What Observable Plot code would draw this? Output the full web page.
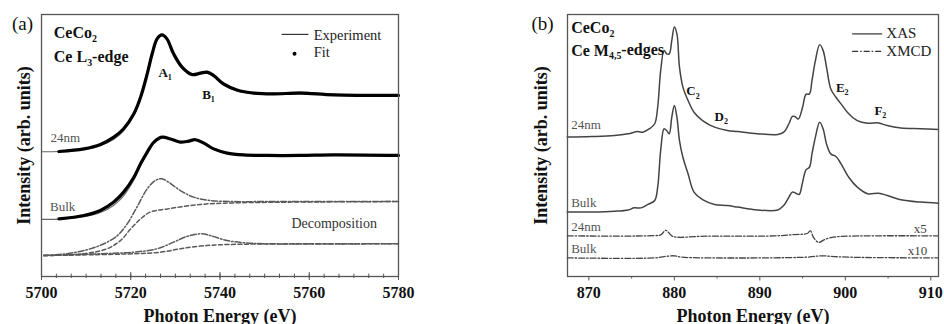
<!DOCTYPE html>
<html>
<head>
<meta charset="utf-8">
<script src="https://cdn.jsdelivr.net/npm/d3@7"></script>
<script src="https://cdn.jsdelivr.net/npm/@observablehq/plot@0.6"></script>
<style>
  html, body { margin: 0; padding: 0; background: #fff; }
  #wrap { display: flex; width: 944px; height: 324px; overflow: hidden; }
</style>
</head>
<body>
<div id="wrap"></div>
<script>
// ---------- Panel (a): Ce L3-edge ----------
const majorA = [5700, 5720, 5740, 5760, 5780];
const exp24 = [[5700,47.6],[5703.9,47.7],[5709.5,48.4],[5713.2,49.9],[5716.2,52.4],[5718.4,55.6],[5720.7,61.5],[5722.2,68.0],[5723.7,77.2],[5724.8,85.0],[5725.9,90.7],[5727.0,92.2],[5728.1,90.6],[5729.6,84.8],[5731.5,79.6],[5733.7,76.9],[5735.6,77.3],[5737.1,77.6],[5738.6,76.2],[5740.8,73.0],[5743.8,70.8],[5747.6,69.8],[5752,69.9],[5758,70.4],[5765.5,69.5],[5780,69.1]];
const fit24 = [[5703.9,47.7],[5709.5,48.7],[5713.2,50.4],[5716.2,53.2],[5718.4,56.4],[5720.7,62.1],[5722.2,68.4],[5723.7,77.4],[5724.8,85.0],[5725.9,90.7],[5727.0,92.2],[5728.1,90.7],[5729.6,85.0],[5731.5,79.9],[5733.7,77.1],[5735.6,77.6],[5737.1,78.0],[5738.6,76.7],[5740.8,73.5],[5743.8,71.2],[5747.6,70.0],[5752,69.7],[5758,70.0],[5765.5,69.3],[5780,69.1]];
const expBulk = [[5700,21.8],[5703.9,21.9],[5709.5,22.8],[5713.2,24.4],[5716.2,27.2],[5718.4,30.8],[5720.7,36.8],[5722.2,42.4],[5723.7,47.2],[5725.2,51.2],[5727,53.0],[5728.9,52.4],[5731.1,51.2],[5733,51.6],[5734.5,52.0],[5736.4,50.7],[5738.6,48.5],[5741.6,47.0],[5745.3,46.4],[5750.6,46.3],[5758,46.3],[5765.5,46.4],[5780,46.2]];
const fitBulk = [[5703.9,22.0],[5709.5,23.3],[5713.2,25.2],[5716.2,28.4],[5718.4,32.2],[5720.7,37.9],[5722.2,43.0],[5723.7,47.5],[5725.2,51.3],[5727,53.2],[5728.9,52.5],[5731.1,51.3],[5733,51.7],[5734.5,52.2],[5736.4,50.9],[5738.6,48.7],[5741.6,47.1],[5745.3,46.4],[5750.6,46.2],[5758,46.2],[5765.5,46.4],[5780,46.2]];
const peak1 = [[5700.5,8.0],[5705.7,8.7],[5710.2,10.2],[5714,12.5],[5717,15.6],[5719.2,20.1],[5721.4,26.5],[5723.7,33.5],[5725.5,36.6],[5726.9,37.3],[5728.5,36.0],[5731.1,32.8],[5734.1,30.3],[5737.9,29.0],[5743,28.6],[5750.5,28.6],[5780,28.6]];
const step1 = [[5700.5,8.0],[5709.5,8.7],[5714.7,10.6],[5717.7,13.7],[5720,18.2],[5722.2,22.0],[5724.4,24.6],[5728.2,25.8],[5735.6,27.5],[5743,28.1],[5780,28.6]];
const peak2 = [[5700.5,8.0],[5713.2,8.7],[5720.7,9.3],[5725.9,10.6],[5729.6,13.1],[5732.6,15.3],[5735.6,16.3],[5737.9,15.6],[5741.6,13.7],[5746.1,12.8],[5750.6,12.5],[5780,12.5]];
const step2 = [[5700.5,8.0],[5720.7,8.7],[5726.7,9.3],[5731.1,10.6],[5735.6,11.6],[5741.6,12.2],[5780,12.5]];
const notesA = [
  {x: 5726.2, y: 76.0, t: "A_{1}"},
  {x: 5736.0, y: 67.9, t: "B_{1}"}
];
const sampleLabelsA = [
  {x: 5702.0, y: 51.3, t: "24nm"},
  {x: 5701.9, y: 24.9, t: "Bulk"}
];
const decompLabel = [{x: 5756.0, y: 18.4, t: "Decomposition"}];
const legendALine = [{x1: 5753.8, x2: 5759.8, y: 92.4}];
const legendADot = [{x: 5756.7, y: 85.0}];
const legendATexts = [{x: 5761.0, y: 90.3, t: "Experiment"}, {x: 5761.0, y: 83.7, t: "Fit"}];

// ---------- Panel (b): Ce M4,5-edges ----------
const majorB = [870, 880, 890, 900, 910];
const minorB = [875, 885, 895, 905];
const xas24 = [[867.47,53.2],[870.3,53.4],[873.0,53.8],[874.6,54.5],[875.7,55.3],[876.3,55.1],[877.1,56.4],[877.7,58.3],[878.05,64.6],[878.4,78.6],[878.8,86.3],[879.1,85.0],[879.4,85.0],[879.7,90.1],[880.0,95.2],[880.3,92.6],[880.6,79.9],[881.0,72.3],[881.6,67.2],[882.3,62.7],[883.3,59.5],[884.7,57.0],[886.2,55.7],[887.4,55.3],[889.7,54.5],[892.1,54.2],[892.8,55.1],[893.4,58.3],[893.8,61.1],[894.1,61.1],[894.5,60.1],[895.0,64.6],[895.4,69.5],[895.8,69.7],[896.1,74.8],[896.5,82.4],[897.0,88.5],[897.4,86.3],[897.8,79.9],[898.3,71.6],[898.9,68.4],[899.5,65.9],[900.4,62.1],[901.4,59.5],[902.6,58.5],[903.9,58.6],[904.9,57.6],[906.5,56.7],[908.8,56.4],[910.9,56.1]];
const xasBulk = [[867.47,24.6],[870.3,24.6],[873.0,24.9],[874.6,25.4],[875.3,26.2],[876.1,26.2],[876.9,27.5],[877.7,29.0],[878.05,34.1],[878.4,48.1],[878.8,56.4],[879.1,55.7],[879.4,54.5],[879.7,60.8],[880.0,65.3],[880.3,60.8],[880.6,51.9],[881.0,45.5],[881.6,39.2],[882.3,32.2],[883.3,29.3],[884.7,27.5],[886.2,27.1],[887.4,26.5],[889.7,25.4],[892.1,25.4],[892.8,27.1],[893.4,30.3],[893.8,32.2],[894.2,31.8],[894.6,31.3],[895.0,36.0],[895.4,40.7],[895.8,41.7],[896.1,46.8],[896.5,53.2],[897.0,58.9],[897.4,56.4],[897.8,50.6],[898.3,46.8],[898.9,45.8],[899.5,43.0],[900.4,37.9],[901.4,34.1],[902.6,31.6],[903.9,31.8],[904.9,30.9],[906.5,29.3],[908.8,28.4],[910.9,28.0]];
const xmcd24 = [[867.47,15.5],[877.7,15.6],[878.4,15.9],[879.0,17.6],[879.4,16.5],[879.8,15.3],[883.9,15.4],[891.7,15.5],[894.0,16.0],[895.6,16.5],[895.9,17.6],[896.3,14.8],[896.9,13.0],[897.5,14.0],[898.3,14.8],[899.5,15.3],[910.9,15.5]];
const xmcdBulk = [[867.47,7.1],[877.7,7.1],[878.8,7.6],[880.0,7.9],[880.8,7.4],[883.9,7.1],[895.6,7.4],[897.2,7.9],[898.7,7.6],[901.4,7.3],[910.9,7.1]];
const notesB = [
  {x: 881.4, y: 69.1, t: "C_{2}"},
  {x: 884.7, y: 59.5, t: "D_{2}"},
  {x: 898.9, y: 70.6, t: "E_{2}"},
  {x: 903.4, y: 61.5, t: "F_{2}"}
];
const sampleLabelsB = [
  {x: 867.93, y: 56.4, t: "24nm"},
  {x: 867.93, y: 26.5, t: "Bulk"},
  {x: 867.93, y: 17.2, t: "24nm"},
  {x: 867.93, y: 9.0, t: "Bulk"}
];
const scaleLabelsB = [{x: 908.0, y: 16.5, t: "x5"}, {x: 907.3, y: 8.3, t: "x10"}];
const legendBSolid = [{x1: 900.8, x2: 904.3, y: 92.6}];
const legendBDash = [{x1: 900.8, x2: 904.3, y: 85.9}];
const legendBTexts = [{x: 904.8, y: 91.0, t: "XAS"}, {x: 904.8, y: 84.2, t: "XMCD"}];

const SERIF = "'Liberation Serif', 'Times New Roman', 'DejaVu Serif', serif";
const GRAY = "#555";
const DASHDOT = "6,2,1.5,2";
const X = d => d[0], Y = d => d[1];

function subscripts(svg) {
  const ns = "http://www.w3.org/2000/svg";
  svg.querySelectorAll("text").forEach(t => {
    const s = t.textContent;
    if (!s.includes("_{")) return;
    while (t.firstChild) t.removeChild(t.firstChild);
    let prevSub = false;
    s.split(/(_\{[^}]*\})/).forEach(p => {
      if (!p) return;
      const ts = document.createElementNS(ns, "tspan");
      if (p.startsWith("_{")) {
        ts.textContent = p.slice(2, -1);
        ts.setAttribute("font-size", "62%");
        ts.setAttribute("dy", "0.38em");
        prevSub = true;
      } else {
        ts.textContent = p;
        if (prevSub) ts.setAttribute("dy", "-0.24em");
        prevSub = false;
      }
      t.appendChild(ts);
    });
  });
}

function cornerText(label, dx, dy, size, bold) {
  return Plot.text([label], {frameAnchor: "top-left", dx, dy, textAnchor: "start",
    lineAnchor: "bottom", fontSize: size, fontWeight: bold ? "bold" : "normal", fill: "#111"});
}
const T = (extra) => ({x: "x", y: "y", text: "t", textAnchor: "start", lineAnchor: "bottom", ...extra});

// ----- Panel (a)
const minorA = d3.range(5700, 5780.01, 20 / 6);
const plotA = Plot.plot({
  width: 472, height: 324,
  marginLeft: 41, marginRight: 74, marginTop: 14, marginBottom: 48,
  x: {domain: [5700, 5780], axis: null},
  y: {domain: [0, 100], axis: null},
  style: {fontFamily: SERIF, background: "white", overflow: "visible"},
  marks: [
    Plot.axisX({ticks: minorA, tickSize: 2, text: null, stroke: GRAY}),
    Plot.ruleX(minorA, {x: d => d, y1: 0, y2: 0.9, stroke: GRAY}),
    Plot.axisX({ticks: majorA, tickSize: 4, tickPadding: 6.5, tickFormat: "d", fontSize: 16, fontWeight: "bold", stroke: GRAY, fill: "#111", label: null}),
    Plot.ruleX(majorA, {x: d => d, y1: 0, y2: 1.5, stroke: GRAY}),
    Plot.line(step1, {x: X, y: Y, curve: "catmull-rom", stroke: "#5a5a5a", strokeWidth: 1.5, strokeDasharray: "4,2.5"}),
    Plot.line(step2, {x: X, y: Y, curve: "catmull-rom", stroke: "#5a5a5a", strokeWidth: 1.5, strokeDasharray: "4,2.5"}),
    Plot.line(peak1, {x: X, y: Y, curve: "catmull-rom", stroke: "#5a5a5a", strokeWidth: 1.5, strokeDasharray: DASHDOT}),
    Plot.line(peak2, {x: X, y: Y, curve: "catmull-rom", stroke: "#5a5a5a", strokeWidth: 1.5, strokeDasharray: DASHDOT}),
    Plot.line(exp24, {x: X, y: Y, curve: "catmull-rom", stroke: "#666", strokeWidth: 1.1}),
    Plot.line(expBulk, {x: X, y: Y, curve: "catmull-rom", stroke: "#666", strokeWidth: 1.1}),
    Plot.line(fit24, {x: X, y: Y, curve: "catmull-rom", stroke: "#000", strokeWidth: 3.2}),
    Plot.line(fitBulk, {x: X, y: Y, curve: "catmull-rom", stroke: "#000", strokeWidth: 3.2}),
    Plot.frame({stroke: GRAY, strokeWidth: 1.3}),
    Plot.text(notesA, T({fontSize: 13, fontWeight: "bold", fill: "#111"})),
    Plot.text(sampleLabelsA, T({fontSize: 13, fill: "#555"})),
    Plot.text(decompLabel, T({fontSize: 14, fill: "#333"})),
    Plot.link(legendALine, {x1: "x1", x2: "x2", y1: "y", y2: "y", stroke: "#333", strokeWidth: 1.2}),
    Plot.dot(legendADot, {x: "x", y: "y", r: 2, fill: "#000"}),
    Plot.text(legendATexts, T({fontSize: 14.5, fill: "#222"})),
    cornerText("(a)", -29.5, 15, 19, false),
    cornerText("CeCo_{2}", 12.3, 23.7, 16, true),
    cornerText("Ce L_{3}-edge", 12.3, 47.8, 16, true),
    Plot.text(["Intensity (arb. units)"], {frameAnchor: "left", dx: -17, rotate: -90, textAnchor: "middle", lineAnchor: "middle", fontSize: 18, fontWeight: "bold", fill: "#111"}),
    Plot.text(["Photon Energy (eV)"], {frameAnchor: "bottom", dy: 45, textAnchor: "middle", lineAnchor: "bottom", fontSize: 18, fontWeight: "bold", fill: "#111"})
  ]
});

// ----- Panel (b)
const plotB = Plot.plot({
  width: 472, height: 324,
  marginLeft: 95, marginRight: 6, marginTop: 14, marginBottom: 48,
  x: {domain: [867.5, 910.9], axis: null},
  y: {domain: [0, 100], axis: null},
  style: {fontFamily: SERIF, background: "white", overflow: "visible"},
  marks: [
    Plot.axisX({ticks: minorB, tickSize: 2.5, text: null, stroke: GRAY}),
    Plot.axisX({ticks: majorB, tickSize: 4.5, tickPadding: 6, tickFormat: "d", fontSize: 16, fontWeight: "bold", stroke: GRAY, fill: "#111", label: null}),
    Plot.line(xas24, {x: X, y: Y, curve: "catmull-rom", stroke: "#444", strokeWidth: 1.5}),
    Plot.line(xasBulk, {x: X, y: Y, curve: "catmull-rom", stroke: "#444", strokeWidth: 1.5}),
    Plot.line(xmcd24, {x: X, y: Y, curve: "catmull-rom", stroke: "#444", strokeWidth: 1.3, strokeDasharray: DASHDOT}),
    Plot.line(xmcdBulk, {x: X, y: Y, curve: "catmull-rom", stroke: "#444", strokeWidth: 1.3, strokeDasharray: DASHDOT}),
    Plot.frame({stroke: GRAY, strokeWidth: 1.3}),
    Plot.text(notesB, T({fontSize: 13, fontWeight: "bold", fill: "#111"})),
    Plot.text(sampleLabelsB, T({fontSize: 13, fill: "#555"})),
    Plot.text(scaleLabelsB, T({fontSize: 13, fill: "#444"})),
    Plot.link(legendBSolid, {x1: "x1", x2: "x2", y1: "y", y2: "y", stroke: "#333", strokeWidth: 1.2}),
    Plot.link(legendBDash, {x1: "x1", x2: "x2", y1: "y", y2: "y", stroke: "#333", strokeWidth: 1.2, strokeDasharray: DASHDOT}),
    Plot.text(legendBTexts, T({fontSize: 15, fill: "#222"})),
    cornerText("(b)", -36, 15, 19, false),
    cornerText("CeCo_{2}", 3.7, 18.5, 16, true),
    cornerText("Ce M_{4,5}-edges", 3.7, 41, 16, true),
    Plot.text(["Intensity (arb. units)"], {frameAnchor: "left", dx: -26, rotate: -90, textAnchor: "middle", lineAnchor: "middle", fontSize: 18, fontWeight: "bold", fill: "#111"}),
    Plot.text(["Photon Energy (eV)"], {frameAnchor: "bottom", dy: 45, textAnchor: "middle", lineAnchor: "bottom", fontSize: 18, fontWeight: "bold", fill: "#111"})
  ]
});

subscripts(plotA);
subscripts(plotB);
document.getElementById("wrap").append(plotA, plotB);
</script>
</body>
</html>
